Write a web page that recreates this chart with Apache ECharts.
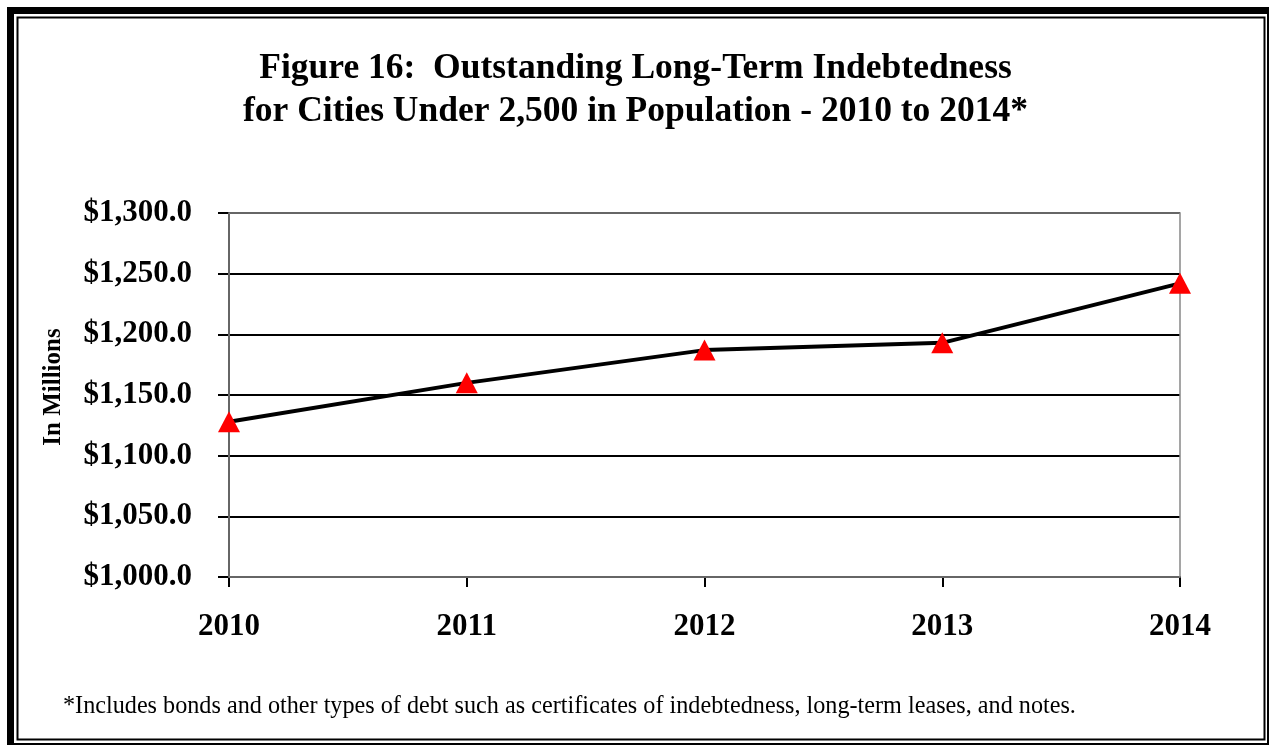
<!DOCTYPE html>
<html>
<head>
<meta charset="utf-8">
<script src="https://cdn.jsdelivr.net/npm/echarts@6/dist/echarts.min.js"></script>
<style>
html,body{margin:0;padding:0;background:#fff;}
#chart{width:1271px;height:745px;}
</style>
</head>
<body>
<div id="chart"></div>
<script>
const years = ['2010', '2011', '2012', '2013', '2014'];
const debt = [1128, 1160, 1187, 1193, 1242];
const titleLines = ['Figure 16:  Outstanding Long-Term Indebtedness', 'for Cities Under 2,500 in Population - 2010 to 2014*'];
const footnote = '*Includes bonds and other types of debt such as certificates of indebtedness, long-term leases, and notes.';
const yName = 'In Millions';

const chart = echarts.init(document.getElementById('chart'), null, {renderer: 'canvas'});
const serif = '"Liberation Serif", "Times New Roman", serif';
chart.setOption({
  animation: false,
  backgroundColor: '#fff',
  title: {
    text: titleLines.join('\n'),
    left: 'center',
    top: 42,
    textStyle: {fontFamily: serif, fontWeight: 'bold', fontSize: 35.5, lineHeight: 43, color: '#000'}
  },
  graphic: [
    {type: 'rect', shape: {x: 7, y: 7, width: 1262, height: 738}, style: {fill: '#000'}, z: -10},
    {type: 'rect', shape: {x: 14, y: 14, width: 1253, height: 729}, style: {fill: '#fff'}, z: -9},
    {type: 'rect', shape: {x: 17.5, y: 17.5, width: 1247, height: 722}, style: {fill: 'none', stroke: '#000', lineWidth: 2}, z: -8},
    {type: 'text', left: 63, top: 695, style: {text: footnote, fontFamily: serif, fontSize: 24.2, fill: '#000'}},
    {type: 'text', x: 54, y: 387, rotation: Math.PI / 2,
      style: {text: yName, fontFamily: serif, fontWeight: 'bold', fontSize: 25, fill: '#000', align: 'center', verticalAlign: 'middle'}},
    {type: 'rect', shape: {x: 229, y: 213, width: 951, height: 364}, style: {fill: 'none', stroke: '#888', lineWidth: 1.5}, z: 1}
  ],
  grid: {left: 229, right: 91, top: 213, bottom: 168, containLabel: false},
  xAxis: {
    type: 'category',
    data: years,
    boundaryGap: false,
    axisLine: {lineStyle: {color: '#000', width: 2}},
    axisTick: {show: true, length: 10, inside: false, lineStyle: {color: '#000', width: 2}},
    axisLabel: {margin: 34, fontFamily: serif, fontWeight: 'bold', fontSize: 31, color: '#000'},
    splitLine: {show: false}
  },
  yAxis: {
    type: 'value',
    min: 1000,
    max: 1300,
    interval: 50,
    axisLine: {show: true, lineStyle: {color: '#000', width: 2}},
    axisTick: {show: true, length: 11, lineStyle: {color: '#000', width: 2}},
    axisLabel: {margin: 37, padding: [4, 0, 0, 0], fontFamily: serif, fontWeight: 'bold', fontSize: 31, color: '#000',
      formatter: v => '$' + v.toLocaleString('en-US', {minimumFractionDigits: 1, maximumFractionDigits: 1})},
    splitLine: {show: true, lineStyle: {color: '#000', width: 2}}
  },
  series: [{
    type: 'line',
    data: debt,
    symbol: 'triangle',
    symbolSize: [22, 21],
    itemStyle: {color: '#ff0000'},
    lineStyle: {color: '#000', width: 4},
    z: 5
  }]
});
</script>
</body>
</html>
